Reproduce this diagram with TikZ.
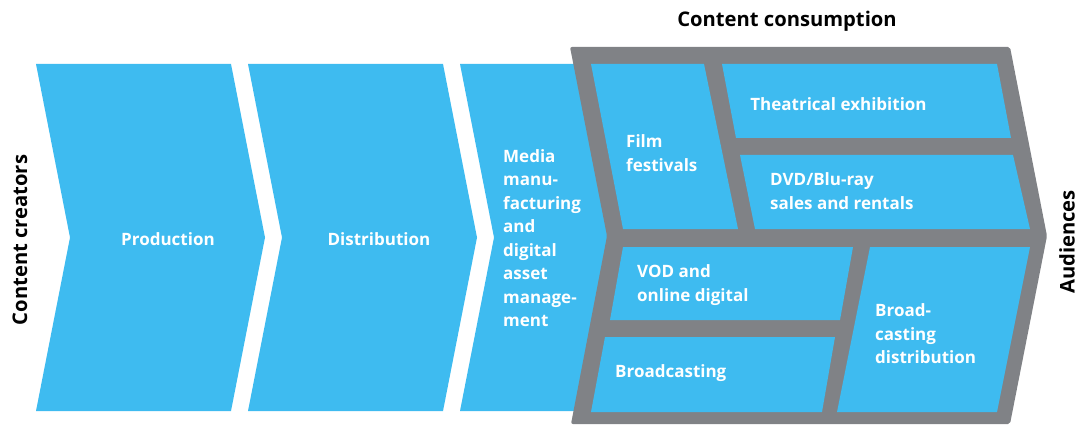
\documentclass[tikz,border=0pt]{standalone}
\usepackage{fontspec}
\setmainfont{Open Sans}
\definecolor{cblue}{RGB}{62,187,240}
\definecolor{cgrey}{RGB}{128,130,134}
\begin{document}
\begin{tikzpicture}[x=1pt,y=-1pt,
  lbl/.style={text=white,font=\bfseries\fontsize{17}{23.5}\selectfont,inner sep=0pt,align=left},
  ttl/.style={text=black,font=\bfseries\fontsize{20.2}{22}\selectfont,inner sep=0pt},
  cell/.style={fill=cblue,draw=none},
  frame/.style={fill=cgrey,draw=none}]
\useasboundingbox (0,0) rectangle (1079,425);
% chevrons
\fill[cblue] (36,64) -- (231,64) -- (265,237.5) -- (231,411) -- (36,411) -- (70,237.5) -- cycle;
\fill[cblue] (248,64) -- (443,64) -- (477,237.5) -- (443,411) -- (248,411) -- (282,237.5) -- cycle;
\fill[cblue] (460,64) -- (640,64) -- (674,237.5) -- (640,411) -- (460,411) -- (494,237.5) -- cycle;
% frame
\path[frame,rounded corners=2pt] (570,47) -- (1010,47) -- (1047,236) -- (1010,424) -- (571,424) -- (607,236) -- cycle;
% cells
\path[cell] (591,64) -- (704,64) -- (738,229) -- (623,229) -- cycle;
\path[cell] (722,64) -- (997,64) -- (1011,138) -- (736,138) -- cycle;
\path[cell] (740,155) -- (1013,155) -- (1030,229) -- (755,229) -- cycle;
\path[cell] (623,247) -- (853,247) -- (840,320) -- (610,320) -- cycle;
\path[cell] (605,337) -- (835,337) -- (822,412) -- (591,412) -- cycle;
\path[cell] (870,247) -- (1030,247) -- (997,412) -- (837,412) -- cycle;
% labels
\node[lbl] (prod) at (168,239) {Production};
\node[lbl] (dist) at (379,239) {Distribution};
\node[lbl,anchor=west] (media) at (503,238) {Media\\manu-\\facturing\\and\\digital\\asset\\manage-\\ment};
\node[lbl,anchor=west] (film) at (626,153) {Film\\festivals};
\node[lbl] (theat) at (838.5,104) {Theatrical exhibition};
\node[lbl,anchor=west] (dvd) at (770,191) {DVD/Blu-ray\\sales and rentals};
\node[lbl,anchor=west] (vod) at (637,285) {VOD and\\online digital};
\node[lbl,anchor=west] (bcast) at (615,373) {Broadcasting};
\node[lbl,anchor=west] (bdist) at (875,334) {Broad-\\casting\\distribution};
% titles
\node[ttl] (cons) at (787,21) {Content consumption};
\node[ttl,rotate=90] (creat) at (20,240) {Content creators};
\node[ttl,rotate=90] (aud) at (1067,242) {Audiences};
\end{tikzpicture}
\end{document}
